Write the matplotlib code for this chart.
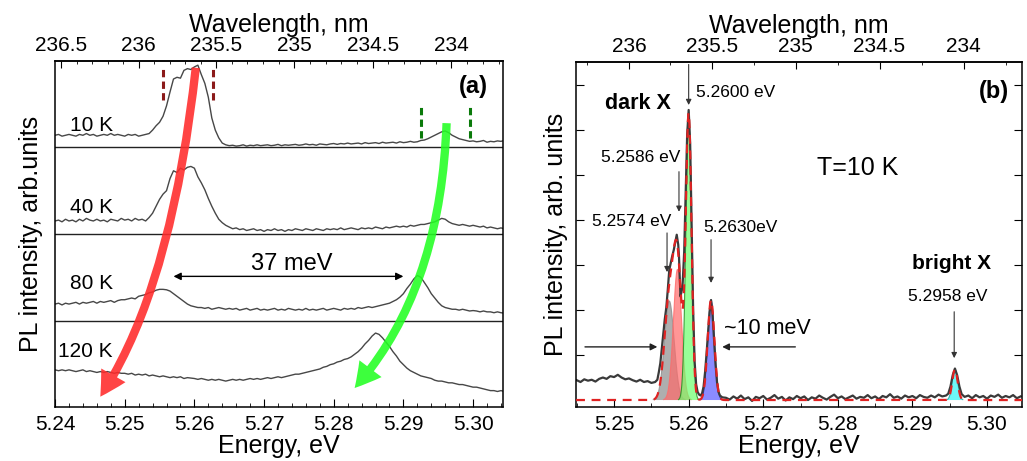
import numpy as np
import matplotlib
matplotlib.use('Agg')
from matplotlib import pyplot as plt
from matplotlib.patches import FancyArrowPatch, ArrowStyle
from matplotlib.path import Path
from matplotlib.ticker import MultipleLocator, FixedLocator, FuncFormatter, FormatStrFormatter

plt.rcParams['font.family'] = ['Liberation Sans', 'DejaVu Sans']
plt.rcParams['axes.linewidth'] = 1.1

HC = 1239.47  # eV*nm, air wavelength

# ---------------- panel (a): PL vs temperature ----------------
temps = ['10 K', '40 K', '80 K', '120 K']
offsets = [3, 2, 1, 0]
energy_a = np.round(5.2400 + 0.0005 * np.arange(130), 4)

i10 = [0.14, 0.15, 0.13, 0.14, 0.15, 0.14, 0.13, 0.15, 0.14, 0.16,
       0.14, 0.15, 0.13, 0.14, 0.15, 0.14, 0.16, 0.14, 0.15, 0.14,
       0.13, 0.15, 0.14, 0.15, 0.13, 0.14, 0.15, 0.16, 0.20, 0.25,
       0.29, 0.36, 0.48, 0.64, 0.79, 0.81, 0.80, 0.89, 0.91, 0.90,
       0.93, 0.95, 0.84, 0.74, 0.58, 0.34, 0.20, 0.11, 0.05, 0.03,
       0.02, 0.025, 0.015, 0.02, 0.03, 0.015, 0.025, 0.02, 0.03, 0.02,
       0.025, 0.03, 0.02, 0.025, 0.035, 0.02, 0.03, 0.025, 0.03, 0.035,
       0.025, 0.03, 0.04, 0.03, 0.035, 0.025, 0.04, 0.035, 0.03, 0.04,
       0.045, 0.035, 0.045, 0.04, 0.05, 0.04, 0.045, 0.05, 0.04, 0.055,
       0.045, 0.05, 0.055, 0.045, 0.06, 0.05, 0.055, 0.06, 0.05, 0.065,
       0.055, 0.06, 0.07, 0.06, 0.065, 0.08, 0.085, 0.10, 0.12, 0.14,
       0.16, 0.18, 0.19, 0.17, 0.14, 0.12, 0.10, 0.09, 0.08, 0.07,
       0.075, 0.065, 0.07, 0.08, 0.06, 0.07, 0.065, 0.075, 0.07, 0.08]

i40 = [0.15, 0.16, 0.14, 0.17, 0.15, 0.16, 0.14, 0.17, 0.15, 0.18,
       0.16, 0.15, 0.17, 0.15, 0.16, 0.14, 0.17, 0.16, 0.15, 0.18,
       0.16, 0.17, 0.15, 0.18, 0.16, 0.17, 0.15, 0.19, 0.24, 0.32,
       0.40, 0.46, 0.50, 0.64, 0.73, 0.71, 0.76, 0.74, 0.77, 0.78,
       0.76, 0.66, 0.59, 0.51, 0.41, 0.32, 0.24, 0.17, 0.13, 0.10,
       0.08, 0.06, 0.07, 0.05, 0.06, 0.04, 0.05, 0.06, 0.04, 0.05,
       0.03, 0.05, 0.04, 0.06, 0.04, 0.05, 0.03, 0.05, 0.04, 0.06,
       0.05, 0.04, 0.06, 0.05, 0.04, 0.06, 0.05, 0.04, 0.06, 0.05,
       0.06, 0.05, 0.07, 0.05, 0.06, 0.07, 0.06, 0.05, 0.07, 0.06,
       0.07, 0.06, 0.08, 0.07, 0.06, 0.08, 0.07, 0.08, 0.09, 0.08,
       0.09, 0.08, 0.10, 0.09, 0.10, 0.11, 0.11, 0.12, 0.13, 0.14,
       0.16, 0.18, 0.17, 0.14, 0.12, 0.11, 0.10, 0.11, 0.10, 0.09,
       0.10, 0.09, 0.08, 0.09, 0.07, 0.08, 0.07, 0.06, 0.07, 0.06]

i80 = [0.19, 0.20, 0.18, 0.20, 0.19, 0.20, 0.21, 0.19, 0.21, 0.20,
       0.21, 0.22, 0.20, 0.22, 0.21, 0.22, 0.23, 0.21, 0.23, 0.24,
       0.24, 0.25, 0.26, 0.25, 0.28, 0.29, 0.30, 0.32, 0.33, 0.35,
       0.36, 0.36, 0.355, 0.34, 0.31, 0.28, 0.25, 0.22, 0.19, 0.17,
       0.16, 0.15, 0.15, 0.14, 0.15, 0.13, 0.14, 0.15, 0.14, 0.13,
       0.14, 0.13, 0.14, 0.12, 0.13, 0.14, 0.12, 0.13, 0.14, 0.12,
       0.13, 0.12, 0.13, 0.14, 0.12, 0.13, 0.12, 0.14, 0.13, 0.12,
       0.13, 0.12, 0.14, 0.12, 0.13, 0.12, 0.13, 0.14, 0.12, 0.13,
       0.14, 0.13, 0.12, 0.14, 0.13, 0.14, 0.13, 0.15, 0.14, 0.15,
       0.16, 0.15, 0.16, 0.17, 0.18, 0.19, 0.20, 0.22, 0.24, 0.27,
       0.31, 0.37, 0.42, 0.48, 0.52, 0.50, 0.44, 0.38, 0.31, 0.26,
       0.21, 0.17, 0.15, 0.14, 0.13, 0.13, 0.12, 0.13, 0.12, 0.11,
       0.115, 0.11, 0.10, 0.11, 0.10, 0.10, 0.09, 0.10, 0.09, 0.085]

i120 = [0.43, 0.42, 0.43, 0.42, 0.43, 0.42, 0.41, 0.42, 0.43, 0.41,
        0.42, 0.41, 0.40, 0.41, 0.40, 0.41, 0.40, 0.39, 0.40, 0.39,
        0.39, 0.38, 0.39, 0.37, 0.38, 0.37, 0.38, 0.36, 0.37, 0.36,
        0.35, 0.36, 0.35, 0.34, 0.35, 0.34, 0.35, 0.33, 0.34, 0.335,
        0.33, 0.32, 0.33, 0.32, 0.31, 0.32, 0.31, 0.32, 0.31, 0.30,
        0.31, 0.32, 0.31, 0.32, 0.31, 0.32, 0.33, 0.32, 0.33, 0.32,
        0.33, 0.34, 0.33, 0.34, 0.35, 0.34, 0.35, 0.36, 0.37, 0.38,
        0.38, 0.39, 0.40, 0.41, 0.42, 0.43, 0.44, 0.46, 0.47, 0.49,
        0.50, 0.52, 0.53, 0.55, 0.56, 0.58, 0.61, 0.64, 0.68, 0.73,
        0.77, 0.82, 0.855, 0.84, 0.80, 0.75, 0.70, 0.64, 0.59, 0.53,
        0.49, 0.45, 0.42, 0.40, 0.38, 0.36, 0.35, 0.34, 0.33, 0.31,
        0.30, 0.30, 0.29, 0.28, 0.28, 0.27, 0.26, 0.26, 0.25, 0.24,
        0.23, 0.23, 0.22, 0.21, 0.20, 0.19, 0.19, 0.18, 0.19, 0.18]

spectra_a = [i10, i40, i80, i120]
wl_ticks_a = [236.5, 236, 235.5, 235, 234.5, 234]

# ---------------- panel (b): 10 K spectrum and Gaussian fit ----------------
e_left = np.round(5.2450 + 0.0005 * np.arange(22), 4)
i_left = [0.44, 0.40, 0.46, 0.43, 0.45, 0.41, 0.47, 0.50, 0.47, 0.53,
          0.51, 0.56, 0.50, 0.46, 0.48, 0.44, 0.41, 0.45, 0.40, 0.42,
          0.38, 0.40]
e_peaks = [5.2558, 5.2560, 5.2562, 5.2564, 5.2566, 5.2568, 5.2570, 5.2572,
           5.2574, 5.2576, 5.2578, 5.2580, 5.2582, 5.2584, 5.2586, 5.2587,
           5.2589, 5.2591, 5.2592, 5.2594, 5.2596, 5.2598, 5.2600, 5.2602,
           5.2604, 5.2606, 5.2608, 5.2610, 5.2612, 5.2614, 5.2616, 5.2618,
           5.2620, 5.2622, 5.2624, 5.2626, 5.2628, 5.2630, 5.2632, 5.2634,
           5.2636, 5.2638, 5.2640, 5.2642, 5.2645]
i_peaks = [0.45, 0.62, 0.82, 1.15, 1.48, 1.80, 2.05, 2.45,
           2.89, 3.05, 3.20, 3.33, 3.50, 3.67, 3.45, 3.20,
           2.30, 2.45, 2.60, 3.30, 4.60, 5.90, 6.44, 5.70,
           3.90, 2.00, 0.85, 0.35, 0.18, 0.12, 0.10, 0.15,
           0.30, 0.62, 1.04, 1.50, 1.95, 2.22, 1.90, 1.33,
           0.80, 0.40, 0.18, 0.10, 0.06]
e_flat1 = np.round(5.2650 + 0.0005 * np.arange(60), 4)
i_flat1 = [0.05, 0.01, 0.08, 0.03, 0.10, 0.02, 0.06, -0.02, 0.07, 0.04,
           0.09, 0.01, 0.05, 0.11, 0.03, 0.07, -0.01, 0.06, 0.02, 0.09,
           0.04, 0.08, 0.00, 0.06, 0.03, 0.10, 0.05, 0.01, 0.07, 0.12,
           0.04, 0.08, 0.02, 0.06, 0.10, 0.03, 0.07, 0.05, 0.11, 0.04,
           0.08, 0.02, 0.09, 0.06, 0.13, 0.05, 0.08, 0.03, 0.10, 0.06,
           0.09, 0.04, 0.11, 0.07, 0.05, 0.10, 0.06, 0.12, 0.08, 0.10]
e_bright = [5.2948, 5.2951, 5.2954, 5.2957, 5.2960, 5.2963, 5.2966]
i_bright = [0.14, 0.30, 0.55, 0.70, 0.55, 0.30, 0.13]
e_flat2 = np.round(5.2970 + 0.0005 * np.arange(16), 4)
i_flat2 = [0.07, 0.10, 0.04, 0.11, 0.06, 0.09, 0.03, 0.10,
           0.07, 0.12, 0.05, 0.09, 0.06, 0.11, 0.04, 0.08]
wl_ticks_b = [236, 235.5, 235, 234.5, 234]

# Gaussian components of the fit
peak_centers = [5.2574, 5.2585, 5.2600, 5.2630, 5.2957]
peak_heights = [2.2, 2.9, 6.3, 2.22, 0.68]
peak_sigmas = [0.00065, 0.00055, 0.00038, 0.00045, 0.00036]
peak_colors = ['#8c8c8c', '#ff6a6a', '#6cff6c', '#5a5aff', '#2ff5f5']
peak_edges = ['#8c8c8c', '#ff6a6a', '#1a8a1a', '#10108a', '#20a0a0']

# annotations of panel (b): text, arrow x, arrow top, arrow bottom
ann_labels = ['5.2600 eV', '5.2586 eV', '5.2574 eV', '5.2630eV', '5.2958 eV']
ann_text_xy = [(5.2610, 6.82), (5.2536, 5.38), (5.2524, 3.96), (5.2670, 3.82), (5.2948, 2.29)]
ann_arrow_x = [5.2600, 5.2587, 5.2571, 5.2630, 5.2956]
ann_arrow_y = [(7.45, 6.55), (5.07, 4.18), (3.71, 2.84), (3.56, 2.60), (1.96, 0.93)]


def e2w(e):
    e = np.asarray(e, dtype=float)
    with np.errstate(divide='ignore', invalid='ignore'):
        return HC / e


def gauss(e, c, h, s):
    return h * np.exp(-0.5 * ((e - c) / s) ** 2)


def style_top(secax, ticks, minor):
    secax.xaxis.set_major_locator(FixedLocator(ticks))
    secax.xaxis.set_minor_locator(MultipleLocator(minor))
    secax.xaxis.set_major_formatter(FuncFormatter(lambda v, p: '{:g}'.format(v)))
    secax.tick_params(which='both', direction='in', labelsize=15, pad=4)
    secax.tick_params(which='major', length=5)
    secax.tick_params(which='minor', length=2.5)
    secax.set_xlabel('Wavelength, nm', fontsize=18, labelpad=3)


fig = plt.figure(figsize=(10.27, 4.61), dpi=100)

# ---------- (a) ----------
ax1 = fig.add_axes([0.0536, 0.117, 0.4362, 0.751])
for spec, off in zip(spectra_a, offsets):
    ax1.plot(energy_a, np.array(spec) + off, color='#474747', lw=1.0, zorder=2)
for y in [1, 2, 3]:
    ax1.axhline(y, color='#222222', lw=1.0, zorder=2)

temp_pos = [(5.2422, 3.25), (5.2422, 2.31), (5.2422, 1.43), (5.2404, 0.64)]
for t, (x, y) in zip(temps, temp_pos):
    ax1.text(x, y, t, fontsize=15, ha='left', va='center')

ax1.plot([5.2555, 5.2555], [3.55, 3.94], color='#8b1a1a', lw=2.2, ls=(0, (2.4, 1.4)))
ax1.plot([5.2627, 5.2627], [3.55, 3.94], color='#8b1a1a', lw=2.2, ls=(0, (2.4, 1.4)))
ax1.plot([5.2925, 5.2925], [3.11, 3.49], color='#0a7a0a', lw=2.2, ls=(0, (2.4, 1.4)))
ax1.plot([5.2996, 5.2996], [3.11, 3.49], color='#0a7a0a', lw=2.2, ls=(0, (2.4, 1.4)))

ax1.text(5.3000, 3.70, '(a)', fontsize=17, fontweight='bold', ha='center', va='center')

big = ArrowStyle.Simple(head_length=18, head_width=20, tail_width=6)
red_path = Path([(5.2602, 3.92), (5.2567, 1.36), (5.2465, 0.12)],
                [Path.MOVETO, Path.CURVE3, Path.CURVE3])
green_path = Path([(5.2962, 3.28), (5.2953, 1.33), (5.2830, 0.22)],
                  [Path.MOVETO, Path.CURVE3, Path.CURVE3])
for p, c in [(red_path, '#ff2a2a'), (green_path, '#22ff22')]:
    arr = FancyArrowPatch(path=p, arrowstyle=big, mutation_scale=1, color=c,
                          alpha=0.88, lw=0, transform=ax1.transData, zorder=4)
    ax1.add_patch(arr)

ax1.annotate('', xy=(5.2570, 1.51), xytext=(5.2900, 1.51),
             arrowprops=dict(arrowstyle='<|-|>', color='black', lw=1.0,
                             mutation_scale=11, shrinkA=0, shrinkB=0))
ax1.text(5.2740, 1.65, '37 meV', fontsize=17, ha='center', va='center')

ax1.set_xlim(5.24, 5.3043)
ax1.set_ylim(0, 4)
ax1.set_yticks([])
ax1.xaxis.set_major_locator(MultipleLocator(0.01))
ax1.xaxis.set_minor_locator(MultipleLocator(0.002))
ax1.xaxis.set_major_formatter(FormatStrFormatter('%.2f'))
ax1.tick_params(axis='x', which='both', direction='in', labelsize=15, pad=6)
ax1.tick_params(axis='x', which='major', length=6)
ax1.tick_params(axis='x', which='minor', length=3)
ax1.set_xlabel('Energy, eV', fontsize=18, labelpad=0)
ax1.set_ylabel('PL intensity, arb.units', fontsize=18, labelpad=9)
top1 = ax1.secondary_xaxis('top', functions=(e2w, e2w))
style_top(top1, wl_ticks_a, 0.1)

# ---------- (b) ----------
ax2 = fig.add_axes([0.5609, 0.117, 0.4343, 0.749])
e_raw = np.concatenate([e_left, e_peaks, e_flat1, e_bright, e_flat2])
i_raw = np.concatenate([i_left, i_peaks, i_flat1, i_bright, i_flat2])

e_fit = np.linspace(5.2449, 5.3047, 3000)
fit_total = np.zeros_like(e_fit)
for c, h, s, fc, ec in zip(peak_centers, peak_heights, peak_sigmas, peak_colors, peak_edges):
    g = gauss(e_fit, c, h, s)
    fit_total += g
    ax2.fill_between(e_fit, 0, g, where=g > 0.005, facecolor=fc, alpha=0.7,
                     edgecolor='none', zorder=1)
    ax2.plot(e_fit[g > 0.01], g[g > 0.01], color=ec, lw=0.8, alpha=0.8, zorder=1)

ax2.plot(e_raw, i_raw, color='#3a3a3a', lw=1.6, zorder=2)
ax2.plot(e_fit, fit_total, color='#e02222', lw=1.6, ls=(0, (4, 3)), zorder=3)

for lab, (tx, ty), ax_x, (y0, y1) in zip(ann_labels, ann_text_xy, ann_arrow_x, ann_arrow_y):
    ha = 'left' if lab == '5.2600 eV' else 'center'
    ax2.text(tx, ty, lab, fontsize=12.5, ha=ha, va='center')
    ax2.annotate('', xy=(ax_x, y1), xytext=(ax_x, y0),
                 arrowprops=dict(arrowstyle='-|>', color='#333333', lw=0.8,
                                 mutation_scale=8, shrinkA=0, shrinkB=0))

ax2.text(5.2532, 6.58, 'dark X', fontsize=15.5, fontweight='bold', ha='center', va='center')
ax2.text(5.2953, 3.04, 'bright X', fontsize=15, fontweight='bold', ha='center', va='center')
ax2.text(5.2827, 5.16, 'T=10 K', fontsize=18, ha='center', va='center')
ax2.text(5.3009, 6.85, '(b)', fontsize=17, fontweight='bold', ha='center', va='center')
ax2.text(5.2706, 1.58, '~10 meV', fontsize=15.5, ha='center', va='center')
ax2.annotate('', xy=(5.2558, 1.18), xytext=(5.2461, 1.18),
             arrowprops=dict(arrowstyle='-|>', color='#222222', lw=1.0,
                             mutation_scale=10, shrinkA=0, shrinkB=0))
ax2.annotate('', xy=(5.2645, 1.18), xytext=(5.2743, 1.18),
             arrowprops=dict(arrowstyle='-|>', color='#222222', lw=1.0,
                             mutation_scale=10, shrinkA=0, shrinkB=0))

ax2.set_xlim(5.2449, 5.3047)
ax2.set_ylim(-0.156, 7.51)
ax2.set_yticks([1, 2, 3, 4, 5, 6, 7])
ax2.tick_params(axis='y', which='both', direction='in', left=True, right=True,
                labelleft=False, length=6)
ax2.xaxis.set_major_locator(MultipleLocator(0.01))
ax2.xaxis.set_minor_locator(MultipleLocator(0.005))
ax2.xaxis.set_major_formatter(FormatStrFormatter('%.2f'))
ax2.tick_params(axis='x', which='both', direction='in', labelsize=15, pad=6)
ax2.tick_params(axis='x', which='major', length=6)
ax2.tick_params(axis='x', which='minor', length=3)
ax2.set_xlabel('Energy, eV', fontsize=18, labelpad=0)
ax2.set_ylabel('PL intensity, arb. units', fontsize=18, labelpad=6)
top2 = ax2.secondary_xaxis('top', functions=(e2w, e2w))
style_top(top2, wl_ticks_b, 0.25)

fig.savefig('out.png', dpi=100)
